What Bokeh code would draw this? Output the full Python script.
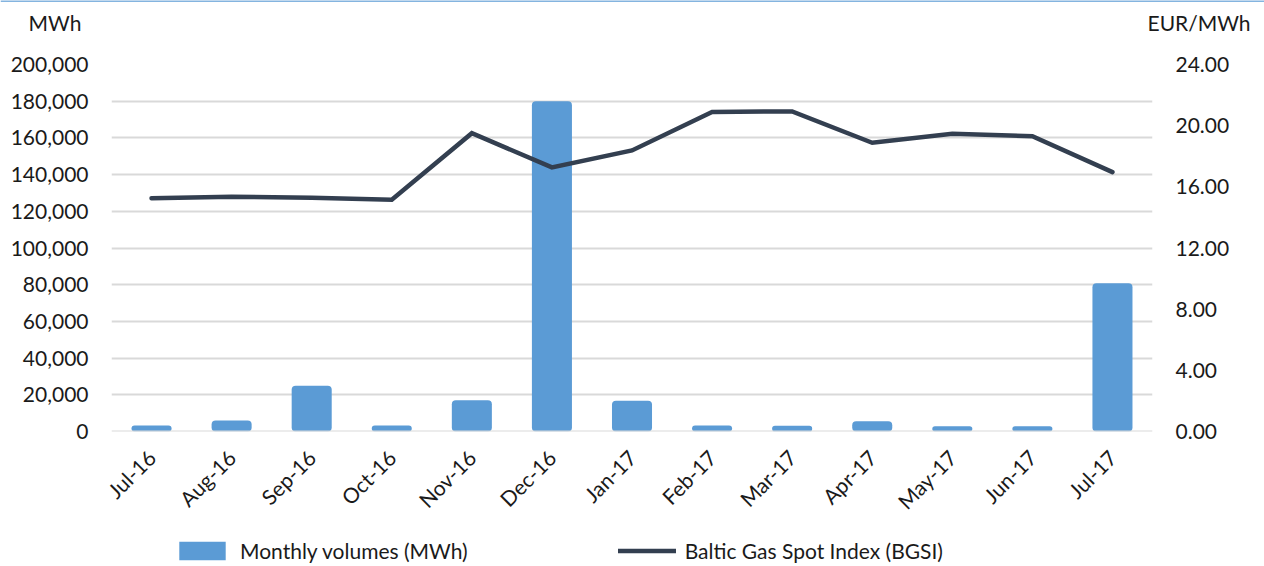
import math
from bokeh.plotting import figure
from bokeh.layouts import column
from bokeh.models import (Range1d, LinearAxis, FixedTicker, NumeralTickFormatter,
                          Legend, LegendItem, Label, Span, FactorRange)
from bokeh.embed import file_html
from bokeh.resources import INLINE

months = ["Jul-16", "Aug-16", "Sep-16", "Oct-16", "Nov-16", "Dec-16", "Jan-17",
          "Feb-17", "Mar-17", "Apr-17", "May-17", "Jun-17", "Jul-17"]
volumes_mwh = [3300, 6000, 25000, 3300, 17000, 180000, 16700,
               3300, 3100, 5600, 2900, 2900, 80800]
bgsi_eur = [15.26, 15.35, 15.28, 15.15, 19.51, 17.27, 18.38,
            20.90, 20.93, 18.88, 19.47, 19.31, 16.96]
left_ticks = [0, 20000, 40000, 60000, 80000, 100000, 120000, 140000, 160000, 180000, 200000]
right_ticks = [0, 4, 8, 12, 16, 20, 24]
series_names = ["Monthly volumes (MWh)", "Baltic Gas Spot Index (BGSI)"]
unit_left = "MWh"
unit_right = "EUR/MWh"

FONT = "Lato"
FS = "21px"
TXT = "#1a1a1a"
BAR_C = "#5b9bd5"
LINE_C = "#333f50"
W = 1264


def bare(fig):
    fig.outline_line_color = None
    fig.xgrid.visible = False
    fig.ygrid.visible = False
    fig.background_fill_color = "white"
    fig.border_fill_color = "white"
    return fig


# ---- top strip with unit captions ----
top = bare(figure(width=W, height=50, x_range=Range1d(0, W), y_range=Range1d(0, 50),
                  x_axis_location=None, y_axis_location=None, output_backend="svg",
                  toolbar_location=None, min_border=0, frame_align=False))
top.add_layout(Span(location=49.6, dimension="width", line_color="#5b9bd5", line_width=1.5))
top.add_layout(Label(x=28, y=28, text=unit_left, text_font=FONT, text_font_size=FS,
                     text_color=TXT, text_baseline="middle"))
top.add_layout(Label(x=1147, y=28, text=unit_right, text_font=FONT, text_font_size=FS,
                     text_color=TXT, text_baseline="middle"))

# ---- main chart ----
p = figure(width=W, height=476, x_range=FactorRange(*months, range_padding=0),
           y_range=Range1d(0, 200000), output_backend="svg", toolbar_location=None,
           min_border_left=111, min_border_right=112, min_border_top=14,
           min_border_bottom=95, frame_align=False)
p.outline_line_color = None
p.background_fill_color = "white"
p.border_fill_color = "white"
p.extra_y_ranges = {"price": Range1d(0, 24)}

p.xgrid.grid_line_color = None
p.ygrid.grid_line_color = "#d9d9d9"
p.ygrid.grid_line_width = 2
p.ygrid.ticker = FixedTicker(ticks=left_ticks)

bars = p.vbar(x=months, top=volumes_mwh, bottom=0, width=0.5,
              fill_color=BAR_C, line_color=None, border_radius=4)
p.add_layout(Span(location=0, dimension="width", line_color="#d9d9d9", line_width=2))

line = p.line(x=months, y=bgsi_eur, y_range_name="price", line_color=LINE_C,
              line_width=4.5, line_cap="round", line_join="miter")

ya = p.yaxis[0]
ya.ticker = FixedTicker(ticks=left_ticks)
ya.formatter = NumeralTickFormatter(format="0,0")

ra = LinearAxis(y_range_name="price", ticker=FixedTicker(ticks=right_ticks),
                formatter=NumeralTickFormatter(format="0.00"))
p.add_layout(ra, "right")

for ax in [ya, ra, p.xaxis[0]]:
    ax.axis_line_color = None
    ax.major_tick_line_color = None
    ax.minor_tick_line_color = None
    ax.major_tick_in = 0
    ax.major_tick_out = 0
    ax.major_label_text_font = FONT
    ax.major_label_text_font_size = FS
    ax.major_label_text_color = TXT
ya.major_label_standoff = 23
ra.major_label_standoff = 23
p.xaxis[0].major_label_orientation = math.pi / 4
p.xaxis[0].major_label_standoff = 22

# ---- legend strip (proxy renderers hold the same data, hidden) ----
bot = bare(figure(width=W, height=40, x_range=Range1d(0, W), y_range=Range1d(0, 40),
                  x_axis_location=None, y_axis_location=None, output_backend="svg",
                  toolbar_location=None, min_border=0, frame_align=False))
idx = list(range(len(months)))
lg_bar = bot.vbar(x=idx, top=volumes_mwh, width=0.5, fill_color=BAR_C, line_color=None,
                  border_radius=4, visible=False)
lg_line = bot.line(x=idx, y=bgsi_eur, line_color=LINE_C, line_width=4.5, line_cap="round",
                   visible=False)
legend = Legend(items=[LegendItem(label=series_names[0], renderers=[lg_bar]),
                       LegendItem(label=series_names[1], renderers=[lg_line])],
                orientation="horizontal", location=(173, 3), padding=0, margin=0,
                spacing=150, glyph_width=58, glyph_height=23, label_height=23,
                label_standoff=9, border_line_color=None, background_fill_alpha=0,
                label_text_font=FONT, label_text_font_size=FS, label_text_color=TXT)
bot.add_layout(legend, "center")

layout = column(top, p, bot, spacing=0)
open("out.html", "w").write(file_html(layout, INLINE))
